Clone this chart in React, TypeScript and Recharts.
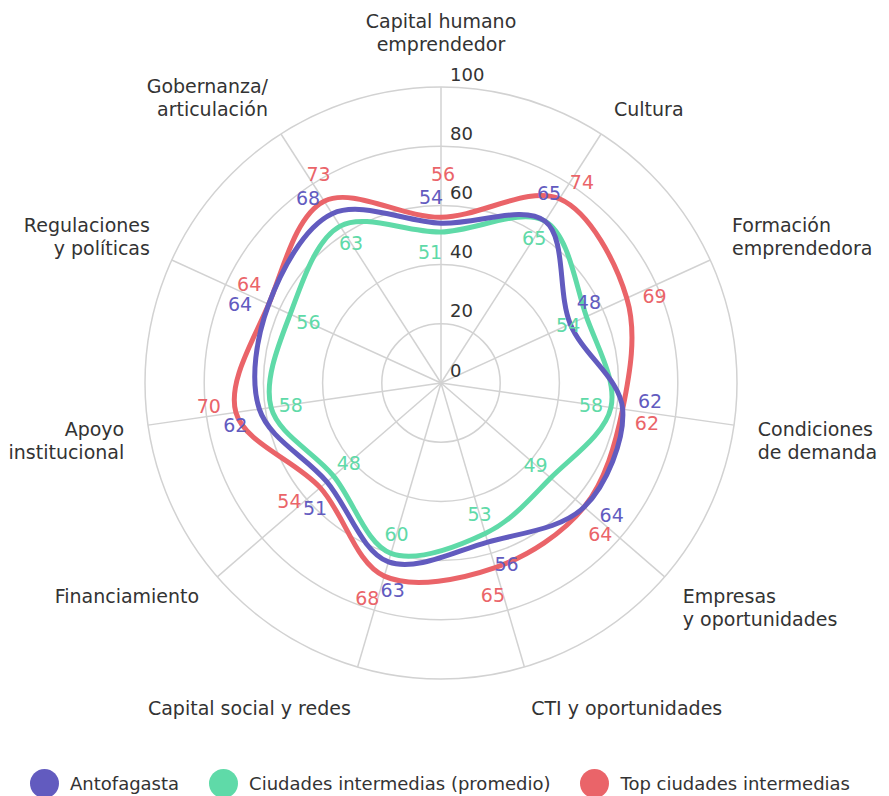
// Radar de dimensiones del ecosistema emprendedor: Antofagasta vs ciudades intermedias.
import { Legend, PolarAngleAxis, PolarGrid, PolarRadiusAxis, Radar, RadarChart } from "recharts";

const dimensiones = [
  "Capital humano\nemprendedor",
  "Cultura",
  "Formación\nemprendedora",
  "Condiciones\nde demanda",
  "Empresas\ny oportunidades",
  "CTI y oportunidades",
  "Capital social y redes",
  "Financiamiento",
  "Apoyo\ninstitucional",
  "Regulaciones\ny políticas",
  "Gobernanza/\narticulación",
];
const antofagasta = [54, 65, 48, 62, 64, 56, 63, 51, 62, 64, 68];
const ciudadesPromedio = [51, 65, 54, 58, 49, 53, 60, 48, 58, 56, 63];
const topCiudades = [56, 74, 69, 62, 64, 65, 68, 54, 70, 64, 73];
const radiusTicks = [0, 20, 40, 60, 80, 100];

const FONT = "'DejaVu Sans', sans-serif";
const TEXT = "#333333";

const SERIES = [
  { key: "antofagasta", name: "Antofagasta", color: "#625bbf" },
  { key: "promedio", name: "Ciudades intermedias (promedio)", color: "#5fdaa8" },
  { key: "top", name: "Top ciudades intermedias", color: "#ea6469" },
];

const data = dimensiones.map((axis, i) => ({
  axis,
  antofagasta: antofagasta[i],
  promedio: ciudadesPromedio[i],
  top: topCiudades[i],
}));

type Pt = { x: number; y: number; cx: number; cy: number; radius: number; value: number; payload: any };

function smoothClosed(pts: Pt[]) {
  const n = pts.length;
  let d = `M${pts[0].x},${pts[0].y}`;
  for (let i = 0; i < n; i++) {
    const p0 = pts[(i - 1 + n) % n];
    const p1 = pts[i];
    const p2 = pts[(i + 1) % n];
    const p3 = pts[(i + 2) % n];
    const c1x = p1.x + (p2.x - p0.x) / 6;
    const c1y = p1.y + (p2.y - p0.y) / 6;
    const c2x = p2.x - (p3.x - p1.x) / 6;
    const c2y = p2.y - (p3.y - p1.y) / 6;
    d += ` C${c1x},${c1y} ${c2x},${c2y} ${p2.x},${p2.y}`;
  }
  return d + "Z";
}

const lineShape = (color: string) => (props: any) => (
  <path d={smoothClosed(props.points)} fill="none" stroke={color} strokeWidth={5} strokeLinejoin="round" />
);

// etiquetas de valor: verde hacia adentro, morado y rojo hacia afuera
function ValueLabels(props: any) {
  const pts: Pt[] = props.points;
  const first = pts[0];
  const k0 = first.radius / first.value;
  // cajas de las marcas del eje radial (se evita taparlas)
  const tickBoxes = radiusTicks.map((t) => ({ x: first.cx + 9 + 14, y: first.cy - t * k0 - 13 }));
  const hits = (p: { x: number; y: number }, q: { x: number; y: number }, w = 25, h = 19) =>
    Math.abs(p.x - q.x) < w && Math.abs(p.y - q.y) < h;
  return (
    <g>
      {pts.map((p, i) => {
        const k = p.radius / p.value;
        const ux = (p.x - p.cx) / p.radius;
        const uy = (p.y - p.cy) / p.radius;
        const vx = uy;
        const vy = -ux;
        const at = (r: number, t: number) => ({ x: p.cx + ux * r + vx * t, y: p.cy + uy * r + vy * t });
        const row = p.payload;
        const onTickAxis = i === 0;
        const g = at(row.promedio * k - 20, onTickAxis ? 11 : 0);
        const a = at(row.antofagasta * k + 26, onTickAxis ? 10 : 12);
        let rt = row.top * k + 26;
        const tt = onTickAxis ? -2 : -10;
        let t = at(rt, tt);
        while (hits(t, a) || tickBoxes.some((b) => hits(t, b, 27, 18))) {
          rt += 1;
          t = at(rt, tt);
        }
        const items = [
          { pos: g, v: row.promedio, c: SERIES[1].color },
          { pos: a, v: row.antofagasta, c: SERIES[0].color },
          { pos: t, v: row.top, c: SERIES[2].color },
        ];
        return items.map((it, j) => (
          <text
            key={`${i}-${j}`}
            x={it.pos.x}
            y={it.pos.y}
            fill={it.c}
            fontSize={19}
            fontFamily={FONT}
            textAnchor="middle"
            dominantBaseline="central"
          >
            {it.v}
          </text>
        ));
      })}
    </g>
  );
}

function AngleTick(props: any) {
  const { cx, cy, radius, payload } = props;
  const rad = (payload.coordinate * Math.PI) / 180;
  const dx = Math.cos(rad);
  const dy = -Math.sin(rad);
  const lines = String(payload.value).split("\n");
  const px = cx + dx * (radius + 24);
  // línea más cercana al círculo exterior
  let near = cy + dy * (radius + 30);
  if (Math.abs(dy) > 0.9) near += dy * 13;
  const firstY = dy >= 0 ? near : near - (lines.length - 1) * 23;
  const anchor = dx > 0.1 ? "start" : dx < -0.1 ? "end" : "middle";
  return (
    <text x={px} y={firstY} fill={TEXT} fontSize={19} fontFamily={FONT} textAnchor={anchor} dominantBaseline="central">
      {lines.map((l, i) => (
        <tspan key={i} x={px} y={firstY + i * 23}>
          {l}
        </tspan>
      ))}
    </text>
  );
}

function RadiusTick(props: any) {
  const { x, y, payload } = props;
  return (
    <text x={x + 9} y={y - 13} fill={TEXT} fontSize={18} fontFamily={FONT} textAnchor="start" dominantBaseline="central">
      {payload.value}
    </text>
  );
}

function LegendContent() {
  return (
    <div style={{ display: "flex", alignItems: "center", paddingLeft: 30, gap: 30, fontFamily: FONT, fontSize: 18, color: TEXT, whiteSpace: "nowrap" }}>
      {SERIES.map((s) => (
        <div key={s.key} style={{ display: "flex", alignItems: "center", gap: 11 }}>
          <span style={{ width: 29, height: 29, borderRadius: 15, background: s.color, display: "inline-block" }} />
          <span>{s.name}</span>
        </div>
      ))}
    </div>
  );
}

export default function App() {
  return (
    <div style={{ width: 889, height: 796, overflow: "hidden", position: "relative", background: "#fff" }}>
      <style>{"body{margin:0}"}</style>
      <RadarChart width={889} height={796} data={data} cx={441} cy={383} outerRadius={296} margin={{ top: 0, right: 0, bottom: 0, left: 0 }}>
        <PolarGrid gridType="circle" stroke="#d2d2d2" strokeWidth={1.5} />
        <PolarAngleAxis dataKey="axis" tick={<AngleTick />} tickLine={false} axisLine={false} />
        <PolarRadiusAxis angle={90} domain={[0, 100]} ticks={radiusTicks} tickCount={6} axisLine={false} tick={<RadiusTick />} />
        <Radar dataKey="top" name={SERIES[2].name} stroke={SERIES[2].color} fill="none" isAnimationActive={false} shape={lineShape(SERIES[2].color)} />
        <Radar dataKey="promedio" name={SERIES[1].name} stroke={SERIES[1].color} fill="none" isAnimationActive={false} shape={lineShape(SERIES[1].color)} />
        <Radar dataKey="antofagasta" name={SERIES[0].name} stroke={SERIES[0].color} fill="none" isAnimationActive={false} shape={lineShape(SERIES[0].color)} />
        <Radar dataKey="antofagasta" legendType="none" fill="none" stroke="none" isAnimationActive={false} shape={(p: any) => <ValueLabels {...p} />} />
        <Legend content={<LegendContent />} wrapperStyle={{ position: "absolute", left: 0, top: 769, width: 889, height: 29 }} />
      </RadarChart>
    </div>
  );
}
